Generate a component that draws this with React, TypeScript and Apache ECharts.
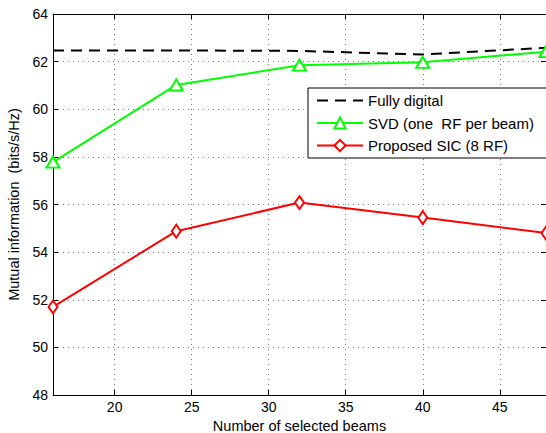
import React, { useEffect, useRef } from "react";
import * as echarts from "echarts";

const beams = [16, 24, 32, 40, 48];
const fullyDigital = [62.47, 62.47, 62.45, 62.3, 62.58];
const svd = [57.78, 61.02, 61.85, 61.97, 62.42];
const sic = [51.7, 54.88, 56.08, 55.45, 54.8];
const xTicks = [20, 25, 30, 35, 40, 45];
const seriesNames = ["Fully digital", "SVD (one  RF per beam)", "Proposed SIC (8 RF)"];

const FONT = "Liberation Sans, Arial, Helvetica, sans-serif";

export default function App() {
  const ref = useRef<HTMLDivElement>(null);
  useEffect(() => {
    if (!ref.current) return;
    const chart = echarts.init(ref.current, undefined, { renderer: "svg" });
    const pairs = (ys: number[]) => beams.map((b, i) => [b, ys[i]]);
    const gridLine = { show: true, lineStyle: { color: "#555", type: [1, 4], width: 0.8 } };
    chart.setOption({
      animation: false,
      backgroundColor: "#fff",
      textStyle: { fontFamily: FONT },
      grid: { left: 53, top: 14, right: 0, bottom: 38, containLabel: false, outerBoundsMode: "none" },
      legend: {
        left: 308,
        top: 88,
        orient: "vertical",
        backgroundColor: "#fff",
        borderColor: "#000",
        borderWidth: 1,
        borderRadius: 0,
        padding: [5, 18, 5, 8],
        itemGap: 7.5,
        itemWidth: 46,
        itemHeight: 14,
        textStyle: { fontFamily: FONT, fontSize: 15, color: "#000" },
        data: [
          { name: seriesNames[0], itemStyle: { opacity: 0 } },
          { name: seriesNames[1] },
          { name: seriesNames[2] },
        ],
      },
      xAxis: [
        {
          type: "value",
          min: 16,
          max: 48,
          name: "Number of selected beams",
          nameLocation: "middle",
          nameGap: 21,
          nameTextStyle: { fontFamily: FONT, fontSize: 14.5, color: "#000" },
          axisLine: { show: true, onZero: false, lineStyle: { color: "#000", width: 1 } },
          axisTick: { show: true, inside: true, length: 5, customValues: xTicks, lineStyle: { color: "#000" } },
          axisLabel: { customValues: xTicks, fontFamily: FONT, fontSize: 14, color: "#000", margin: 5 },
          splitLine: { ...gridLine, customValues: xTicks },
        },
        {
          type: "value",
          position: "top",
          min: 16,
          max: 48,
          axisLine: { show: true, onZero: false, lineStyle: { color: "#000", width: 1 } },
          axisTick: { show: true, inside: true, length: 5, customValues: xTicks, lineStyle: { color: "#000" } },
          axisLabel: { show: false },
          splitLine: { show: false },
        },
      ],
      yAxis: [
        {
          type: "value",
          min: 48,
          max: 64,
          interval: 2,
          name: "Mutual information  (bits/s/Hz)",
          nameLocation: "middle",
          nameGap: 29,
          nameTextStyle: { fontFamily: FONT, fontSize: 14.5, color: "#000" },
          axisLine: { show: true, onZero: false, lineStyle: { color: "#000", width: 1 } },
          axisTick: { show: true, inside: true, length: 5, lineStyle: { color: "#000" } },
          axisLabel: { fontFamily: FONT, fontSize: 14, color: "#000", margin: 5 },
          splitLine: gridLine,
        },
        {
          type: "value",
          position: "right",
          min: 48,
          max: 64,
          interval: 2,
          axisLine: { show: true, onZero: false, lineStyle: { color: "#000", width: 1 } },
          axisTick: { show: true, inside: true, length: 5, lineStyle: { color: "#000" } },
          axisLabel: { show: false },
          splitLine: { show: false },
        },
      ],
      series: [
        {
          name: seriesNames[0],
          type: "line",
          data: pairs(fullyDigital),
          symbol: "none",
          lineStyle: { color: "#000", width: 2, type: [11, 7] },
          itemStyle: { color: "#000" },
        },
        {
          name: seriesNames[1],
          type: "line",
          data: pairs(svd),
          symbol: "triangle",
          symbolSize: [13, 11],
          lineStyle: { color: "#00ff00", width: 2 },
          itemStyle: { color: "#fff", borderColor: "#00ff00", borderWidth: 2 },
        },
        {
          name: seriesNames[2],
          type: "line",
          data: pairs(sic),
          symbol: "diamond",
          symbolSize: [9, 13],
          lineStyle: { color: "#ff0000", width: 2 },
          itemStyle: { color: "#fff", borderColor: "#ff0000", borderWidth: 2 },
        },
      ],
    });
    return () => chart.dispose();
  }, []);
  return <div ref={ref} style={{ width: 546, height: 433, position: "absolute", left: 0, top: 0 }} />;
}
